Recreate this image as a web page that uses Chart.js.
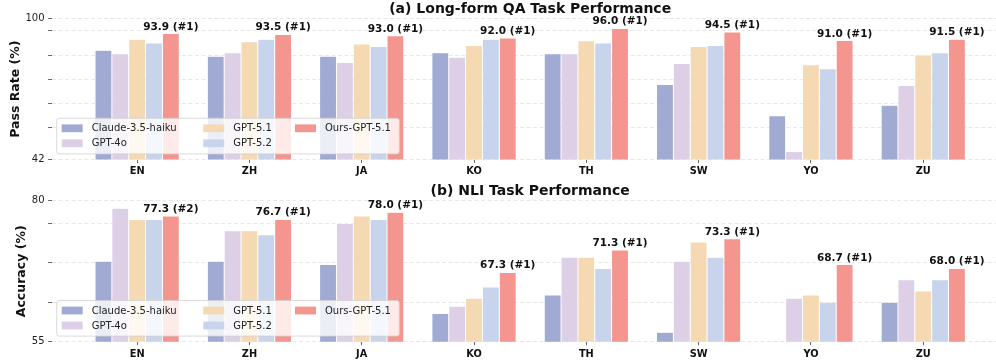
<!DOCTYPE html>
<html>
<head>
<meta charset="utf-8">
<script src="https://cdn.jsdelivr.net/npm/chart.js@4.4.1/dist/chart.umd.min.js"></script>
<style>
  body { margin: 0; background: #fff; width: 996px; height: 361px; overflow: hidden; }
  .panel { position: absolute; left: 0; width: 996px; }
</style>
</head>
<body>
<div class="panel" style="top:0;height:180px"><canvas id="qa"></canvas></div>
<div class="panel" style="top:180px;height:181px"><canvas id="nli"></canvas></div>
<script>
const LANGS  = ["EN", "ZH", "JA", "KO", "TH", "SW", "YO", "ZU"];
const MODELS = ["Claude-3.5-haiku", "GPT-4o", "GPT-5.1", "GPT-5.2", "Ours-GPT-5.1"];
const COLORS = ["#a0aad3", "#dccfe6", "#f5d9b2", "#c8d4eb", "#f5958f"];

// (a) long-form QA, pass rate (%)
const QA_TITLE  = "(a) Long-form QA Task Performance";
const QA_CLAUDE = [87.0, 84.5, 84.5, 86.0, 85.6, 72.9, 60.0, 64.3];
const QA_GPT4O  = [85.6, 86.0, 82.0, 84.1, 85.6, 81.5, 45.3, 72.5];
const QA_GPT51  = [91.5, 90.5, 89.6, 89.0, 90.9, 88.5, 81.0, 85.0];
const QA_GPT52  = [90.0, 91.5, 88.5, 91.5, 90.0, 89.0, 79.4, 86.0];
const QA_OURS   = [93.9, 93.5, 93.0, 92.0, 96.0, 94.5, 91.0, 91.5];
const QA_RANK   = [1, 1, 1, 1, 1, 1, 1, 1];
const QA_TICKS  = [42, 55, 65, 75, 85, 95, 100];

// (b) NLI, accuracy (%)
const NLI_TITLE  = "(b) NLI Task Performance";
const NLI_CLAUDE = [69.3, 69.3, 68.7, 60.0, 63.3, 56.7, null, 62.0]; // YO is below the axis
const NLI_GPT4O  = [78.7, 74.7, 76.0, 61.3, 70.0, 69.3, 62.7, 66.0];
const NLI_GPT51  = [76.7, 74.7, 77.3, 62.7, 70.0, 72.7, 63.3, 64.0];
const NLI_GPT52  = [76.7, 74.0, 76.7, 64.7, 68.0, 70.0, 62.0, 66.0];
const NLI_OURS   = [77.3, 76.7, 78.0, 67.3, 71.3, 73.3, 68.7, 68.0];
const NLI_RANK   = [2, 1, 1, 1, 1, 1, 1, 1];
const NLI_TICKS  = [55, 62, 69, 76, 80];

const FONT = "'DejaVu Sans', sans-serif";
Chart.defaults.font.family = FONT;
Chart.defaults.color = "#222";

// titles, value labels and legend (column-major, like the original)
const extras = {
  id: "extras",
  afterDraw(chart) {
    const o = chart.options.plugins.extras;
    const { ctx, chartArea: a } = chart;
    const xs = chart.scales.x;
    ctx.save();

    // value labels above our bars
    const meta = chart.getDatasetMeta(MODELS.length - 1);
    ctx.font = "bold 10.5px " + FONT;
    ctx.fillStyle = "#111";
    ctx.textAlign = "center";
    ctx.textBaseline = "alphabetic";
    meta.data.forEach((bar, i) => {
      const v = chart.data.datasets[MODELS.length - 1].data[i].y;
      ctx.fillText(`${v.toFixed(1)} (#${o.rank[i]})`, bar.x, bar.y - 4);
    });

    // panel title, centred on the axes
    ctx.font = "bold 14px " + FONT;
    ctx.fillText(o.title, xs.getPixelForValue(3.5), a.top - 5.5);

    // legend box
    const bx = a.left + 5.2, bw = 342.6, bh = 35.6;
    const by = a.bottom - 5.6 - bh;
    ctx.beginPath();
    ctx.roundRect(bx, by, bw, bh, 2.5);
    ctx.fillStyle = "rgba(255,255,255,0.8)";
    ctx.fill();
    ctx.strokeStyle = "#d0d0d0";
    ctx.lineWidth = 0.8;
    ctx.stroke();
    const colX = [5.0, 146.6, 238.3], rowY = [10.0, 25.0];
    ctx.font = "10px " + FONT;
    ctx.textAlign = "left";
    ctx.textBaseline = "middle";
    MODELS.forEach((m, i) => {
      const sx = bx + colX[Math.floor(i / 2)], cy = by + rowY[i % 2];
      ctx.fillStyle = COLORS[i];
      ctx.fillRect(sx, cy - 3.9, 21, 7.8);
      ctx.fillStyle = "#222";
      ctx.fillText(m, sx + 30, cy + 0.5);
    });
    ctx.restore();
  }
};

function drawPanel(id, cfg) {
  const series = cfg.series;
  new Chart(document.getElementById(id), {
    type: "bar",
    data: {
      datasets: MODELS.map((m, k) => ({
        label: m,
        data: series[k].map((v, i) => ({ x: i, y: v })),
        backgroundColor: COLORS[k],
        borderColor: "rgba(255,255,255,0.7)",
        borderWidth: 0.5,
        categoryPercentage: 0.75,
        barPercentage: 1.0
      }))
    },
    plugins: [extras],
    options: {
      responsive: true,
      maintainAspectRatio: false,
      animation: false,
      layout: { padding: { top: cfg.top, left: 0, right: 0, bottom: 0 } },
      plugins: {
        legend: { display: false },
        tooltip: { enabled: false },
        extras: { title: cfg.title, rank: cfg.rank }
      },
      scales: {
        x: {
          type: "linear",
          offset: false,
          min: -0.7625, max: 7.648,
          afterBuildTicks: s => { s.ticks = LANGS.map((_, i) => ({ value: i })); },
          afterFit: s => { s.height = cfg.xHeight; },
          ticks: {
            callback: v => LANGS[v],
            autoSkip: false, maxRotation: 0, padding: 3,
            color: "#111",
            font: { size: 9.8, weight: "bold" }
          },
          grid: { offset: false, drawOnChartArea: false, tickLength: 3.5, tickColor: "#444", tickWidth: 0.8 },
          border: { display: false }
        },
        y: {
          min: cfg.ticks[0], max: cfg.ticks[cfg.ticks.length - 1],
          afterBuildTicks: s => { s.ticks = cfg.ticks.map(v => ({ value: v })); },
          afterFit: s => { s.width = 51.5; },
          ticks: {
            callback: v => (v === cfg.ticks[0] || v === cfg.ticks[cfg.ticks.length - 1]) ? String(v) : "",
            autoSkip: false, padding: 3.5,
            color: "#222",
            font: { size: 10 }
          },
          grid: {
            color: "#e2e2e2", lineWidth: 0.8,
            tickLength: 3.5, tickColor: "#444", tickWidth: 0.8, tickBorderDash: []
          },
          border: { display: false, dash: [4, 2.5] },
          title: {
            display: true, text: cfg.yTitle, color: "#111",
            font: { size: 12.5, weight: "bold" },
            padding: { top: cfg.titlePad, bottom: 0 }
          }
        }
      }
    }
  });
}

drawPanel("qa", {
  title: QA_TITLE, yTitle: "Pass Rate (%)", rank: QA_RANK, ticks: QA_TICKS,
  series: [QA_CLAUDE, QA_GPT4O, QA_GPT51, QA_GPT52, QA_OURS],
  top: 18.7, xHeight: 20.5, titlePad: 8
});
drawPanel("nli", {
  title: NLI_TITLE, yTitle: "Accuracy (%)", rank: NLI_RANK, ticks: NLI_TICKS,
  series: [NLI_CLAUDE, NLI_GPT4O, NLI_GPT51, NLI_GPT52, NLI_OURS],
  top: 20.9, xHeight: 19.3, titlePad: 14.5
});
</script>
</body>
</html>
